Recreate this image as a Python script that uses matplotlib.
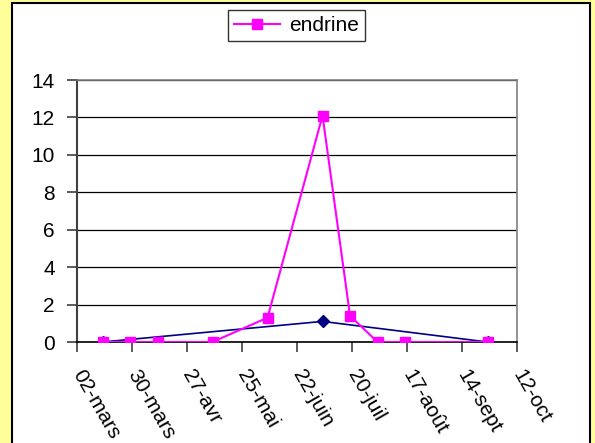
import datetime as dt
import matplotlib
matplotlib.use("Agg")
import matplotlib.pyplot as plt
from matplotlib.patches import Rectangle

plt.rcParams['font.family'] = ['Liberation Sans', 'DejaVu Sans']

# sampling dates and concentrations
dates_endrine = ["2005-03-15", "2005-03-29", "2005-04-12", "2005-05-10", "2005-06-07",
                 "2005-07-05", "2005-07-19", "2005-08-02", "2005-08-16", "2005-09-27"]
endrine = [0, 0, 0, 0, 1.3, 12.1, 1.4, 0, 0, 0]

dates_other = ["2005-03-15", "2005-07-05", "2005-09-27"]
other = [0, 1.1, 0]

tick_dates = ["2005-03-02", "2005-03-30", "2005-04-27", "2005-05-25", "2005-06-22",
              "2005-07-20", "2005-08-17", "2005-09-14", "2005-10-12"]
tick_labels = ["02-mars", "30-mars", "27-avr", "25-mai", "22-juin",
               "20-juil", "17-août", "14-sept", "12-oct"]

to_date = lambda s: dt.datetime.strptime(s, "%Y-%m-%d")

W, H = 595, 443
FS = 15
fig = plt.figure(figsize=(W / 100, H / 100), dpi=100, facecolor="#FFFF99")
fig.patches.append(Rectangle((12 / W, -0.01), 578 / W, 1 - 3 / H + 0.01,
                             transform=fig.transFigure, facecolor="white",
                             edgecolor="black", linewidth=1.5, zorder=-5))

ax = fig.add_axes([77 / W, 1 - 342 / H, 440 / W, 262 / H])
ax.set_facecolor("white")

ax.plot([to_date(d) for d in dates_other], other, color="#000080", lw=1.2,
        marker="D", markersize=6, zorder=3)
ax.plot([to_date(d) for d in dates_endrine], endrine, color="#FF00FF", lw=1.5,
        marker="s", markersize=7, label="endrine", zorder=4)

ax.set_xlim(to_date(tick_dates[0]), to_date(tick_dates[-1]))
ax.set_ylim(0, 14)
ax.set_yticks(range(0, 15, 2))
ax.set_xticks([to_date(d) for d in tick_dates])
ax.set_xticklabels(tick_labels, rotation=-60, ha="left", va="center",
                   rotation_mode="anchor")
ax.tick_params(axis="both", labelsize=FS, length=7, width=1.2, color="#404040",
               direction="out")
ax.tick_params(axis="x", pad=14)
ax.tick_params(axis="y", pad=9)

ax.grid(axis="y", color="black", lw=0.9)
ax.set_axisbelow(True)
for side in ("top", "right"):
    ax.spines[side].set_color("#808080")
    ax.spines[side].set_linewidth(1.2)
ax.spines["left"].set_color("#404040")
ax.spines["left"].set_linewidth(1.5)
ax.spines["bottom"].set_color("black")
ax.spines["bottom"].set_linewidth(1.2)

leg = fig.legend(loc="center", bbox_to_anchor=(296.5 / W, 1 - 25.5 / H), fontsize=FS,
                 frameon=True, fancybox=False, edgecolor="black", handlelength=2.2,
                 borderpad=0.3, handletextpad=0.4)
leg.get_frame().set_linewidth(1.0)

fig.savefig("out.png", dpi=100, facecolor=fig.get_facecolor())
